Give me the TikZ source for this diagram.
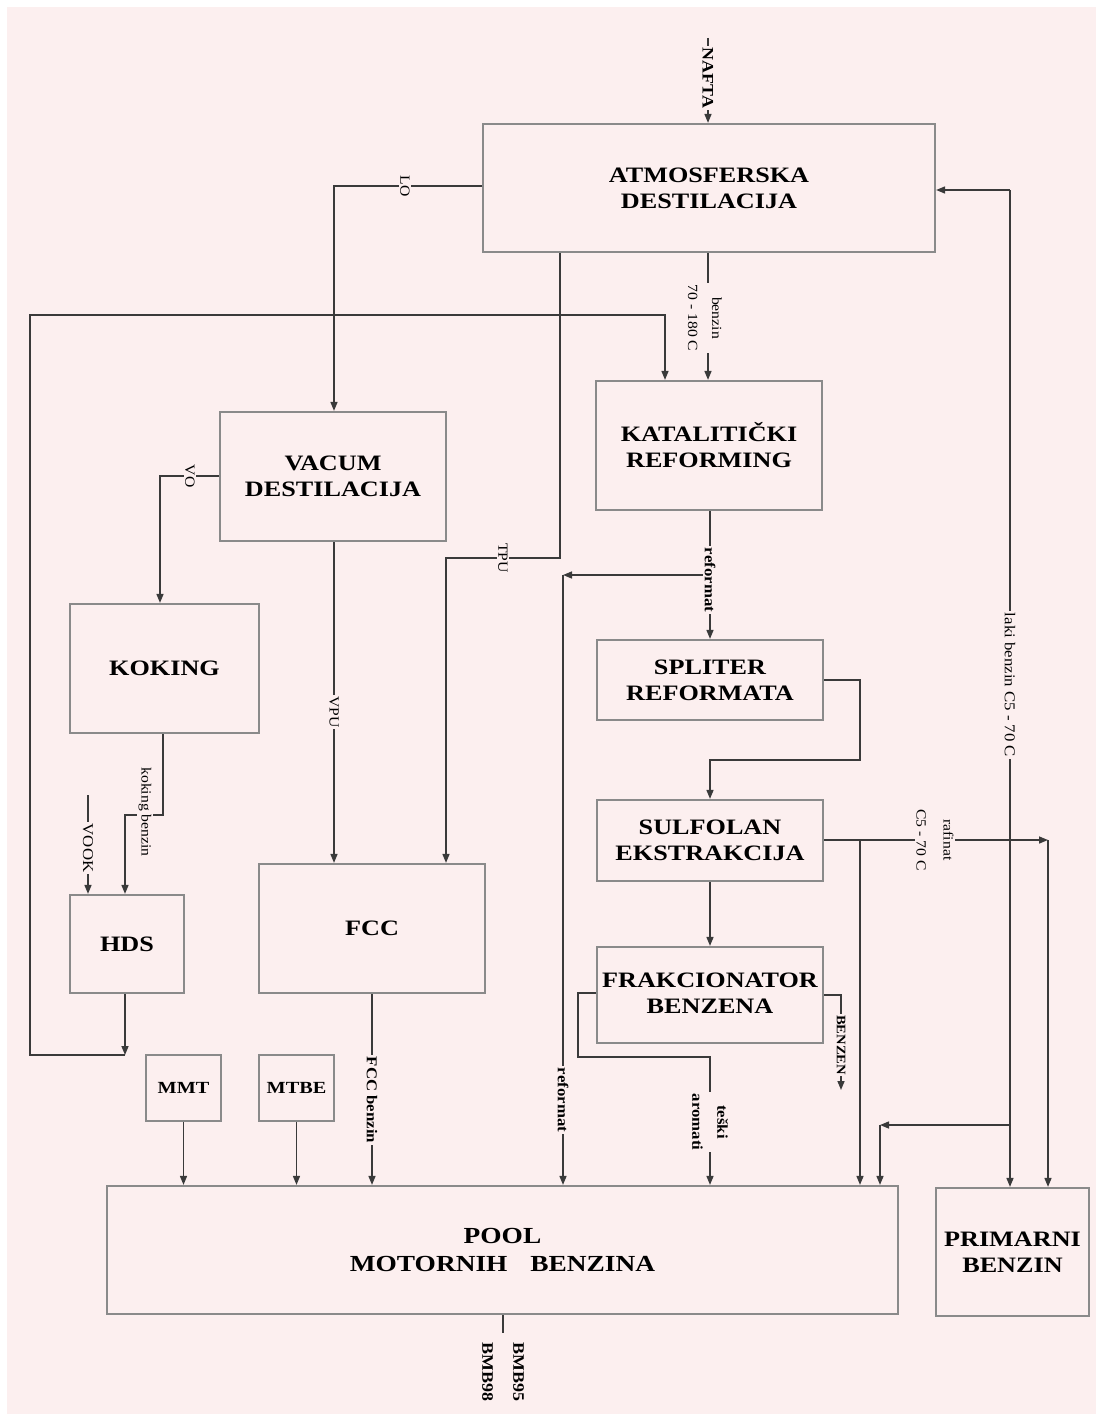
\documentclass[tikz,border=0pt]{standalone}
\usepackage{fontspec}
\setmainfont[FakeStretch=1.12]{Liberation Serif}
\newfontfamily\boxfont[FakeStretch=1.19]{Liberation Serif}
\usetikzlibrary{arrows.meta,calc}
\definecolor{bg}{HTML}{FCEFEF}
\definecolor{boxc}{HTML}{8A8A8A}
\definecolor{linec}{HTML}{3A3A3A}
\begin{document}
\begin{tikzpicture}[x=1pt,y=-1pt,
 box/.style={draw=boxc,line width=2.2pt,inner sep=0pt,align=center,font=\boxfont\bfseries\fontsize{22}{26}\selectfont},
 conn/.style={draw=linec,line width=1.5pt,-{Triangle[length=9pt,width=7pt]}},
 plain/.style={draw=linec,line width=1.5pt},
 lab/.style={fill=bg,inner sep=1.5pt,rotate=-90,font=\fontsize{14}{24}\selectfont,align=center},
 blab/.style={lab,font=\bfseries\fontsize{15}{25}\selectfont}]
\useasboundingbox (0,0) rectangle (1103,1421);
\fill[white] (0,0) rectangle (1103,1421);
\fill[bg] (7,7) rectangle (1096,1414);

% boxes
\node[box,minimum width=452,minimum height=128] (atm) at (709,188) {ATMOSFERSKA\\DESTILACIJA};
\node[box,minimum width=226,minimum height=129] (vac) at (333,476.5) {VACUM\\DESTILACIJA};
\node[box,minimum width=226,minimum height=129] (kat) at (709,445.5) {KATALITIČKI\\REFORMING};
\node[box,minimum width=189,minimum height=129] (kok) at (164.5,668.5) {KOKING};
\node[box,minimum width=226,minimum height=80] (spl) at (710,680) {SPLITER\\REFORMATA};
\node[box,minimum width=226,minimum height=81] (sul) at (710,840.5) {SULFOLAN\\EKSTRAKCIJA};
\node[box,minimum width=226,minimum height=96] (fra) at (710,995) {\raisebox{3pt}{\begin{tabular}{@{}c@{}}FRAKCIONATOR\\BENZENA\end{tabular}}};
\node[box,minimum width=114,minimum height=98] (hds) at (127,944) {HDS};
\node[box,minimum width=226,minimum height=129] (fcc) at (372,928.5) {FCC};
\node[box,minimum width=75,minimum height=66,font=\boxfont\bfseries\fontsize{17}{20}\selectfont] (mmt) at (183.5,1088) {MMT};
\node[box,minimum width=75,minimum height=66,font=\boxfont\bfseries\fontsize{17}{20}\selectfont] (mtbe) at (296.5,1088) {MTBE};
\node[box,minimum width=791,minimum height=128,font=\boxfont\bfseries\fontsize{23}{28}\selectfont] (pool) at (502.5,1250) {POOL\\MOTORNIH\quad BENZINA};
\node[box,minimum width=153,minimum height=128] (pri) at (1012.5,1252) {PRIMARNI\\BENZIN};

% coordinates
\coordinate (nafta) at (708,38);
\coordinate (loB) at (334,186);
\coordinate (bz) at (708,0);
\coordinate (hdsout) at (125,1055);
\coordinate (lp1) at (30,1055);
\coordinate (lp2) at (30,315);
\coordinate (lp3) at (665,315);
\coordinate (vo) at (160,476);
\coordinate (tp1) at (560,558);
\coordinate (tp2) at (446,558);
\coordinate (vpu) at (334,0);
\coordinate (rf) at (710,575);
\coordinate (rf2) at (563,575);
\coordinate (kb1) at (163,815);
\coordinate (kb2) at (125,815);
\coordinate (vk) at (88,795);
\coordinate (s1) at (860,680);
\coordinate (s2) at (860,760);
\coordinate (s3) at (710,760);
\coordinate (rf3) at (1048,840);
\coordinate (rb) at (860,840);
\coordinate (lb1) at (1010,190);
\coordinate (lb2) at (1010,1125);
\coordinate (lb3) at (880,1125);
\coordinate (bn1) at (841,995);
\coordinate (bn2) at (841,1090);
\coordinate (ta1) at (578,993);
\coordinate (ta2) at (578,1057);
\coordinate (ta3) at (710,1057);
\coordinate (bmb) at (503,1333);

% connectors
\draw[conn] (nafta) -- (nafta |- atm.north);
\draw[conn] (atm.west |- loB) -- (loB) -- (vac.north -| loB);
\draw[conn] (atm.south -| bz) -- (kat.north -| bz);
\draw[conn] (hds.south -| hdsout) -- (hdsout);
\draw[conn] (hdsout) -- (lp1) -- (lp2) -- (lp3) -- (kat.north -| lp3);
\draw[conn] (vac.west |- vo) -- (vo) -- (kok.north -| vo);
\draw[conn] (atm.south -| tp1) -- (tp1) -- (tp2) -- (fcc.north -| tp2);
\draw[conn] (vac.south -| vpu) -- (fcc.north -| vpu);
\draw[conn] (kat.south -| rf) -- (spl.north -| rf);
\draw[conn] (rf) -- (rf2);
\draw[conn] (rf2) -- (pool.north -| rf2);
\draw[conn] (kok.south -| kb1) -- (kb1) -- (kb2) -- (hds.north -| kb2);
\draw[conn] (vk) -- (hds.north -| vk);
\draw[conn] (spl.east |- s1) -- (s1) -- (s2) -- (s3) -- (sul.north -| s3);
\draw[conn] (sul.south) -- (fra.north);
\draw[conn] (sul.east |- rf3) -- (rf3);
\draw[conn] (rf3) -- (pri.north -| rf3);
\draw[conn] (rb) -- (pool.north -| rb);
\draw[conn] (lb1) -- (atm.east |- lb1);
\draw[conn] (lb1) -- (pri.north -| lb1);
\draw[conn] (lb2) -- (lb3);
\draw[conn] (lb3) -- (pool.north -| lb3);
\draw[conn] (fra.east |- bn1) -- (bn1) -- (bn2);
\draw[conn] (fra.west |- ta1) -- (ta1) -- (ta2) -- (ta3) -- (pool.north -| ta3);
\draw[conn] (fcc.south) -- (pool.north -| fcc.south);
\draw[conn] (mmt.south) -- (pool.north -| mmt.south);
\draw[conn] (mtbe.south) -- (pool.north -| mtbe.south);
\draw[plain] (pool.south -| bmb) -- (bmb);

% labels
\node[blab,font=\bfseries\fontsize{16}{18}\selectfont] (lnafta) at (708,78) {NAFTA};
\node[lab] (llo) at (405,186) {LO};
\node[lab] (lbz) at (705,318) {benzin\\70 - 180 C};
\node[lab] (lvo) at (190,476) {VO};
\node[lab] (ltpu) at (503,558) {TPU};
\node[lab] (lvpu) at (334,712) {VPU};
\node[blab] (lrf) at (710,580) {reformat};
\node[blab] (lrf2) at (563,1100) {reformat};
\node[lab] (lkb) at (145,812) {koking benzin};
\node[lab,font=\fontsize{15}{17}\selectfont] (lvk) at (88,848) {VOOK};
\node[lab,font=\fontsize{14}{27}\selectfont] (lraf) at (935,840) {rafinat\\C5 - 70 C};
\node[lab,font=\fontsize{15}{17}\selectfont] (llb) at (1010,685) {laki benzin C5 - 70 C};
\node[blab,font=\bfseries\fontsize{13}{15}\selectfont] (lbn) at (841,1045) {BENZEN};
\node[blab] (lta) at (710,1122) {teški\\aromati};
\node[blab] (lfcc) at (372,1100) {FCC benzin};
\node[rotate=-90,align=center,font=\bfseries\fontsize{16}{31}\selectfont,inner sep=0pt] (lbmb) at (503,1372) {BMB95\\BMB98};
\end{tikzpicture}
\end{document}
